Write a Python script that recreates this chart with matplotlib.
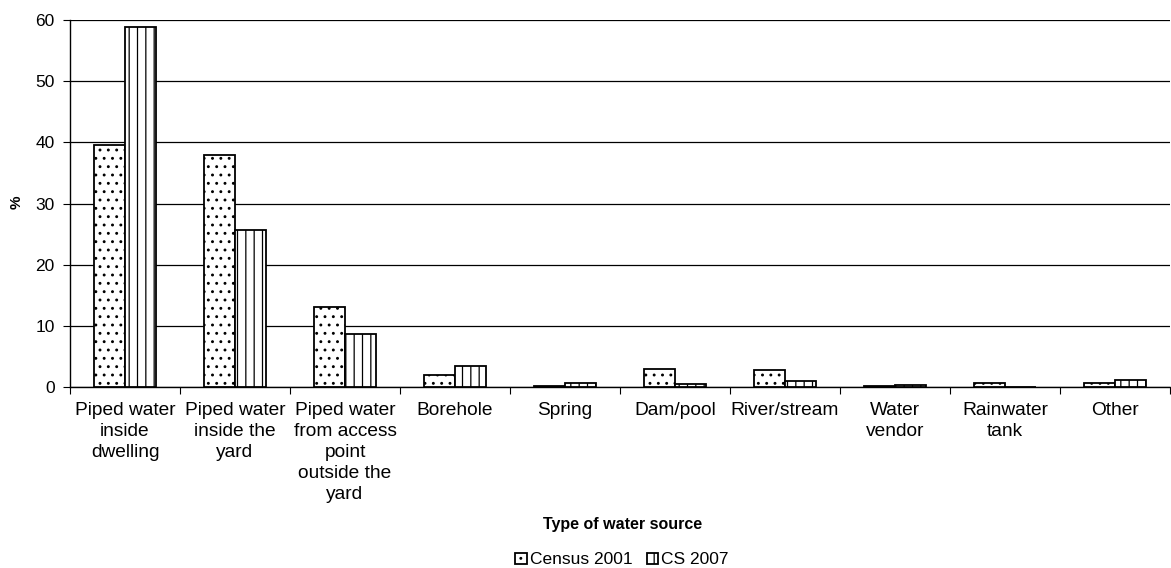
import matplotlib
matplotlib.use("Agg")
import matplotlib.pyplot as plt
import numpy as np

categories = ["Piped water\ninside\ndwelling", "Piped water\ninside the\nyard",
              "Piped water\nfrom access\npoint\noutside the\nyard", "Borehole", "Spring",
              "Dam/pool", "River/stream", "Water\nvendor", "Rainwater\ntank", "Other"]
census_2001 = [39.5, 38.0, 13.0, 2.0, 0.2, 3.0, 2.8, 0.2, 0.65, 0.7]
cs_2007 = [58.8, 25.6, 8.7, 3.4, 0.6, 0.5, 1.0, 0.4, 0.0, 1.2]
series_names = ["Census 2001", "CS 2007"]

plt.rcParams['font.family'] = ['Liberation Sans', 'DejaVu Sans']
plt.rcParams['hatch.linewidth'] = 0.9
plt.rcParams['hatch.color'] = 'black'

fig = plt.figure(figsize=(11.71, 5.68), dpi=100)
ax = fig.add_axes([70 / 1171, 181 / 568, 1100 / 1171, 367 / 568])

x = np.arange(len(categories))
w = 0.285
ax.bar(x - w / 2, census_2001, w, color='white', edgecolor='black', linewidth=1.3,
       hatch='..', label=series_names[0], zorder=3)
ax.bar(x + w / 2, cs_2007, w, color='white', edgecolor='black', linewidth=1.3,
       hatch='||', label=series_names[1], zorder=3)

ax.set_xlim(-0.5, len(categories) - 0.5)
ax.set_ylim(0, 60)
ax.set_yticks(range(0, 61, 10))
ax.yaxis.grid(True, color='black', linewidth=0.9)
ax.set_axisbelow(True)
for s in ['top', 'right']:
    ax.spines[s].set_visible(False)
ax.spines['left'].set_linewidth(1.0)
ax.spines['bottom'].set_linewidth(1.0)

ax.set_xticks(np.arange(-0.5, len(categories), 1.0))
ax.set_xticklabels([])
ax.set_xticks(x, minor=True)
ax.set_xticklabels(categories, minor=True, fontsize=13.8, linespacing=1.3)
ax.tick_params(axis='x', which='major', length=5, direction='out')
ax.tick_params(axis='x', which='minor', length=0, pad=11)
ax.tick_params(axis='y', length=5, pad=6, labelsize=12.5)

fig.text(17 / 1171, 1 - 202 / 568, "%", rotation=90, fontsize=11, fontweight='bold',
         ha='center', va='center')
fig.text(623 / 1171, 1 - 524 / 568, "Type of water source", fontsize=11.5,
         fontweight='bold', ha='center', va='center')

fig.legend(loc='center', bbox_to_anchor=(622 / 1171, 1 - 560 / 568), ncol=2,
           frameon=False, fontsize=12.5, handlelength=0.65, handleheight=0.65,
           handletextpad=0.2, columnspacing=0.8, borderpad=0)

fig.savefig("out.png", dpi=100)
